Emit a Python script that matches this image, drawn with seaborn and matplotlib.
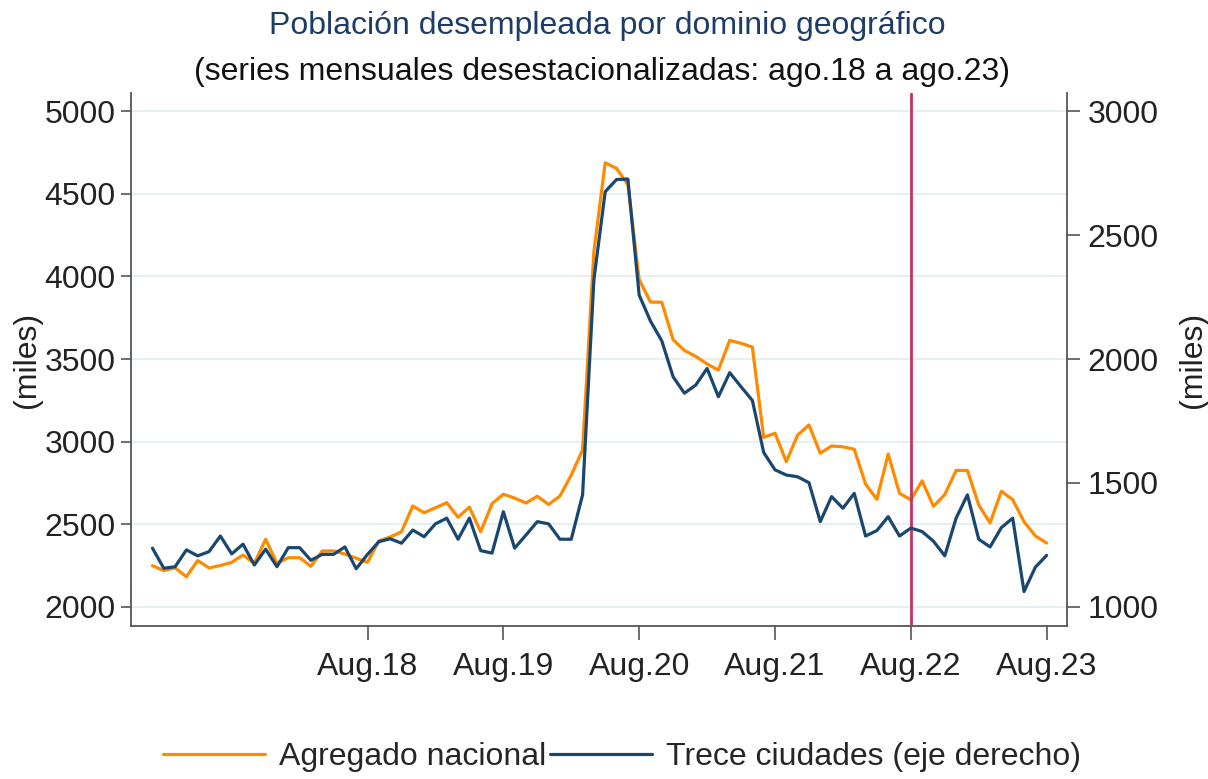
import matplotlib
matplotlib.use("Agg")
import matplotlib.pyplot as plt
import seaborn as sns
import pandas as pd
import numpy as np

# ---- data (monthly, Jan 2017 .. Aug 2023) ----
nacional = [2250, 2220, 2237, 2183, 2281, 2236, 2251, 2270, 2314, 2264,
            2410, 2264, 2298, 2298, 2246, 2339, 2339, 2320, 2295, 2270,
            2400, 2423, 2455, 2611, 2570, 2600, 2631, 2543, 2604, 2455,
            2625, 2682, 2659, 2629, 2670, 2620, 2671, 2798, 2950, 4150,
            4687, 4653, 4555, 3980, 3845, 3843, 3617, 3552, 3516, 3470,
            3433, 3613, 3595, 3572, 3026, 3051, 2879, 3040, 3101, 2930,
            2974, 2969, 2954, 2744, 2651, 2925, 2688, 2648, 2763, 2609,
            2680, 2826, 2826, 2617, 2508, 2700, 2649, 2516, 2430, 2387]
trece = [1237, 1156, 1162, 1230, 1206, 1223, 1286, 1214, 1253, 1169,
         1233, 1162, 1239, 1239, 1188, 1212, 1212, 1242, 1154, 1212,
         1263, 1275, 1257, 1310, 1283, 1335, 1358, 1273, 1358, 1227,
         1217, 1384, 1237, 1290, 1344, 1335, 1273, 1273, 1452, 2320,
         2675, 2724, 2726, 2258, 2153, 2073, 1928, 1862, 1895, 1962,
         1848, 1945, 1888, 1833, 1623, 1553, 1532, 1525, 1501, 1344,
         1445, 1398, 1458, 1286, 1308, 1364, 1286, 1318, 1304, 1265,
         1206, 1358, 1452, 1273, 1242, 1320, 1358, 1062, 1160, 1208]
month_idx = list(range(len(nacional)))
tick_pos = [19, 31, 43, 55, 67, 79]
tick_labels = ["Aug.18", "Aug.19", "Aug.20", "Aug.21", "Aug.22", "Aug.23"]
left_ticks = [2000, 2500, 3000, 3500, 4000, 4500, 5000]
right_ticks = [1000, 1500, 2000, 2500, 3000]
vline_pos = 67
title = "Población desempleada por dominio geográfico"
subtitle = "(series mensuales desestacionalizadas: ago.18 a ago.23)"
label_nac = "Agregado nacional"
label_trece = "Trece ciudades (eje derecho)"

df = pd.DataFrame({"mes": month_idx, "nacional": nacional, "trece": trece})

sns.set_theme(style="white")
plt.rcParams["font.family"] = ["Liberation Sans", "DejaVu Sans"]

ORANGE = "#FF8A00"
NAVY = "#1A476F"
GRID = "#E6EFF1"
AXC = "#555555"
FS = 23

fig = plt.figure(figsize=(12.08, 7.79), dpi=100)
ax = fig.add_axes([0.1084, 0.1964, 0.7749, 0.6842])
ax2 = ax.twinx()

sns.lineplot(data=df, x="mes", y="nacional", ax=ax, color=ORANGE, lw=2.3,
             label=label_nac, legend=False)
sns.lineplot(data=df, x="mes", y="trece", ax=ax2, color=NAVY, lw=2.3,
             label=label_trece, legend=False)

ax.axvline(vline_pos, color="#C9305C", lw=2.0, zorder=5)

ax.set_xlim(-1.9, 80.8)
ax.set_ylim(1885, 5109)
ax2.set_ylim(923, 3073)
ax.set_yticks(left_ticks)
ax2.set_yticks(right_ticks)
ax.set_xticks(tick_pos)
ax.set_xticklabels(tick_labels)

ax.yaxis.grid(True, color=GRID, lw=1.5)
ax.xaxis.grid(False)
ax2.grid(False)
ax.set_axisbelow(True)

for a in (ax, ax2):
    for s in a.spines.values():
        s.set_color(AXC)
        s.set_linewidth(1.3)
    a.spines["top"].set_visible(False)
ax.spines["right"].set_visible(False)
ax2.spines["left"].set_visible(False)
ax2.spines["bottom"].set_visible(False)

ax.tick_params(axis="y", which="both", left=True, length=7, width=1.2,
               color=AXC, labelsize=FS, pad=4, labelcolor="#222222")
ax.tick_params(axis="x", bottom=True, length=10, width=1.2, color=AXC,
               labelsize=FS, pad=9, labelcolor="#222222")
ax2.tick_params(axis="y", right=True, length=9, width=1.2, color=AXC,
                labelsize=FS, pad=6, labelcolor="#222222")

ax.set_xlabel("")
ax.set_ylabel("(miles)", fontsize=FS, color="#222222", labelpad=2)
ax2.set_ylabel("(miles)", fontsize=FS, color="#222222", rotation=90, labelpad=14)

fig.text(0.503, 0.967, title, ha="center", va="center", fontsize=FS,
         color="#1E3D66")
fig.text(0.498, 0.908, subtitle, ha="center", va="center", fontsize=FS,
         color="#111111")

h1, l1 = ax.get_legend_handles_labels()
h2, l2 = ax2.get_legend_handles_labels()
fig.legend(h1 + h2, l1 + l2, loc="center", bbox_to_anchor=(0.515, 0.028),
           ncol=2, frameon=False, fontsize=FS, handlelength=3.2,
           handletextpad=0.45, columnspacing=0.1, borderaxespad=0)

fig.savefig("out.png", dpi=100)
